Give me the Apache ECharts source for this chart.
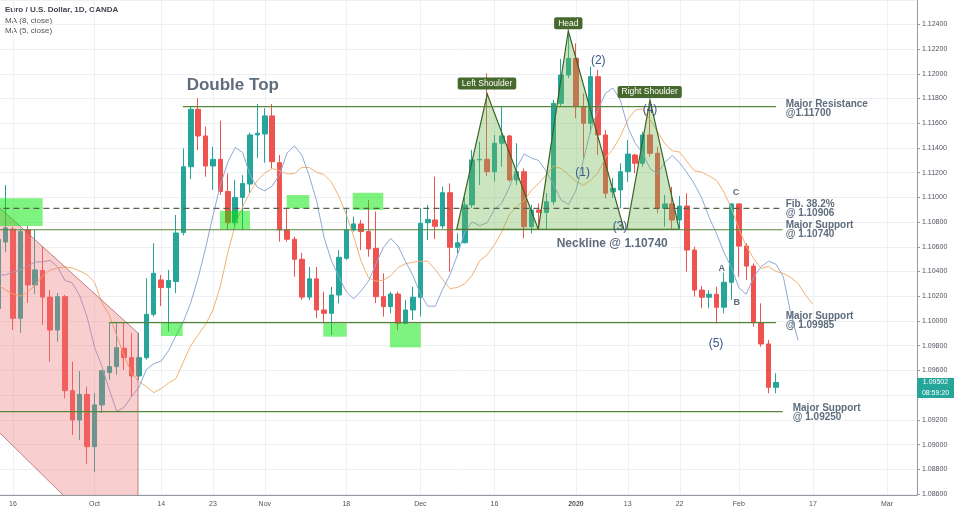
<!DOCTYPE html>
<html><head><meta charset="utf-8">
<script src="https://cdn.jsdelivr.net/npm/echarts@6/dist/echarts.min.js"></script>
<style>html,body{margin:0;padding:0;background:#fff}#c{width:954px;height:512px}</style>
</head><body><div id="c"></div>
<script>
// ---------- calendar (trading days, Dec 25 and Jan 1 closed) ----------
const sepDays=[12,13,16,17,18,19,20,23,24,25,26,27,30];
const octDays=[1,2,3,4,7,8,9,10,11,14,15,16,17,18,21,22,23,24,25,28,29,30,31];
const novDays=[1,4,5,6,7,8,11,12,13,14,15,18,19,20,21,22,25,26,27,28,29];
const decDays=[2,3,4,5,6,9,10,11,12,13,16,17,18,19,20,23,24,26,27,30,31];
const janDays=[2,3,6,7,8,9,10,13,14,15,16,17,20,21,22,23,24,27,28,29,30,31];
const febDays=[3,4,5,6,7,10,11,12,13,14,17,18,19,20,21,24,25,26,27,28];
const marDays=[2,3,4,5,6];
const p2=d=>(d<10?'0':'')+d;
const dates=[].concat(
  sepDays.map(d=>'2019-09-'+p2(d)), octDays.map(d=>'2019-10-'+p2(d)),
  novDays.map(d=>'2019-11-'+p2(d)), decDays.map(d=>'2019-12-'+p2(d)),
  janDays.map(d=>'2020-01-'+p2(d)), febDays.map(d=>'2020-02-'+p2(d)),
  marDays.map(d=>'2020-03-'+p2(d)));

// ---------- x tick labels ----------
const tickLabels=[['2019-09-16','16'],['2019-10-01','Oct'],['2019-10-14','14'],['2019-10-23','23'],
  ['2019-11-01','Nov'],['2019-11-18','18'],['2019-12-02','Dec'],['2019-12-16','16'],['2020-01-02','2020'],
  ['2020-01-13','13'],['2020-01-22','22'],['2020-02-03','Feb'],['2020-02-17','17'],['2020-03-02','Mar']];

// ---------- EUR/USD daily candles [open, close, low, high] ----------
const candles=[
[1.1010,1.1066,1.0930,1.1087],[1.10639,1.10753,1.10558,1.11100],[1.10742,1.10022,1.09927,1.10760],
[1.10022,1.10723,1.09903,1.10745],[1.10736,1.10291,1.10146,1.10770],[1.10291,1.10413,1.10219,1.10736],
[1.10408,1.10193,1.09968,1.10601],[1.10193,1.09927,1.09671,1.10251],[1.09927,1.10197,1.09833,1.10227],
[1.10197,1.09436,1.09374,1.10210],[1.09436,1.09199,1.09078,1.09671],[1.09199,1.09406,1.09037,1.09594],
[1.09406,1.08983,1.08845,1.09469],[1.08983,1.09321,1.08778,1.09418],[1.09321,1.09598,1.09256,1.09604],
[1.09582,1.09631,1.09523,1.09984],[1.09631,1.09784,1.09564,1.09984],[1.09779,1.09703,1.09604,1.09984],
[1.09703,1.09555,1.09387,1.09903],[1.09555,1.09703,1.09523,1.09903],[1.09703,1.10054,1.09687,1.10346],
[1.10054,1.10386,1.10035,1.10629],[1.10332,1.10270,1.10121,1.10372],[1.10270,1.10327,1.09914,1.10413],
[1.10319,1.10712,1.10225,1.10858],[1.10715,1.11248,1.10692,1.11397],[1.11248,1.11713,1.11148,1.11734],
[1.11713,1.11497,1.11383,1.11802],[1.11497,1.11254,1.11167,1.11572],[1.11254,1.11308,1.11060,1.11410],
[1.11308,1.11047,1.11020,1.11621],[1.11047,1.10795,1.10736,1.11195],[1.10795,1.11000,1.10736,1.11141],
[1.11000,1.11113,1.10736,1.11180],[1.11108,1.11505,1.11033,1.11524],[1.11505,1.11519,1.11316,1.11756],
[1.11513,1.11659,1.11281,1.11721],[1.11659,1.11289,1.11235,1.11756],[1.11281,1.10736,1.10642,1.11343],
[1.10736,1.10661,1.10642,1.10912],[1.10661,1.10499,1.10358,1.10682],[1.10499,1.10193,1.10170,1.10551],
[1.10193,1.10341,1.10170,1.10436],[1.10341,1.10089,1.10023,1.10436],[1.10089,1.10062,1.09981,1.10237],
[1.10062,1.10210,1.09887,1.10276],[1.10210,1.10515,1.10143,1.10574],[1.10507,1.10736,1.10493,1.10912],
[1.10736,1.10785,1.10723,1.10844],[1.10785,1.10723,1.10574,1.10817],[1.10723,1.10583,1.10520,1.10979],
[1.10588,1.10197,1.10143,1.10885],[1.10197,1.10116,1.10035,1.10385],[1.10116,1.10218,1.10062,1.10237],
[1.10218,1.09981,1.09927,1.10237],[1.09981,1.10089,1.09975,1.10170],[1.10089,1.10192,1.10008,1.10276],
[1.10192,1.10790,1.10035,1.10912],[1.10795,1.10822,1.10655,1.10939],[1.10817,1.10766,1.10663,1.11168],
[1.10769,1.11038,1.10746,1.11086],[1.11038,1.10596,1.10399,1.11113],[1.10596,1.10633,1.10547,1.10709],
[1.10633,1.10939,1.10628,1.11006],[1.10939,1.11303,1.10914,1.11384],[1.11303,1.11308,1.11100,1.11450],
[1.11308,1.11208,1.11174,1.12004],[1.11208,1.11438,1.11127,1.11505],[1.11438,1.11497,1.11248,1.11739],
[1.11497,1.11141,1.11127,1.11505],[1.11141,1.11208,1.11100,1.11438],[1.11208,1.10763,1.10669,1.11235],
[1.10763,1.10898,1.10709,1.10939],[1.10898,1.10879,1.10736,1.10952],[1.10879,1.10965,1.10736,1.11035],
[1.10965,1.11761,1.10939,1.11788],[1.11761,1.11990,1.11734,1.12120],[1.11990,1.12125,1.11964,1.12349],
[1.12125,1.11734,1.11640,1.12247],[1.11734,1.11600,1.11316,1.11842],[1.11600,1.11977,1.11519,1.12057],
[1.11977,1.11505,1.11343,1.12031],[1.11505,1.11034,1.10993,1.11546],[1.11045,1.11074,1.10995,1.11157],
[1.11060,1.11208,1.10912,1.11276],[1.11208,1.11351,1.11127,1.11464],[1.11343,1.11276,1.11195,1.11351],
[1.11276,1.11505,1.11248,1.11532],[1.11505,1.11357,1.11330,1.11761],[1.11357,1.10912,1.10871,1.11410],
[1.10912,1.10947,1.10763,1.11020],[1.10947,1.10817,1.10746,1.11086],[1.10817,1.10930,1.10749,1.11011],
[1.10930,1.10574,1.10399,1.11033],[1.10574,1.10250,1.10197,1.10601],[1.10250,1.10192,1.10103,1.10282],
[1.10192,1.10216,1.10103,1.10250],[1.10216,1.10111,1.09981,1.10276],[1.10111,1.10313,1.10062,1.10391],
[1.10313,1.10947,1.10170,1.10952],[1.10947,1.10606,1.10358,1.10952],[1.10606,1.10444,1.10332,1.10628],
[1.10444,1.09986,1.09954,1.10466],[1.09986,1.09814,1.09792,1.10143],[1.09814,1.09463,1.09415,1.09846],
[1.09463,1.09502,1.09415,1.09577]];

// MA values at the left edge (before enough closes exist)
const ma5Lead=[1.10372,1.10372,1.10396,1.10413,1.10445,1.10478,1.10478];
const ma8Lead=[1.10291,1.10250,1.10218,1.10202,1.10234,1.10291,1.10364,1.10413,1.10429,1.10437,1.10429,1.10405];

// ---------- annotations (bar index, price) ----------
const levels=[[24.95,105.0,1.11734,0],[-2,106.0,1.10911,1],[-2,105.9,1.10738,0],[14.96,105.0,1.09986,0],[-2,105.9,1.09266,0]];
const zones=[[-2,6.0,1.10992,1.10768],[21.98,24.91,1.09986,1.09878],[29.95,33.99,1.10892,1.10741],[38.95,42.0,1.11019,1.10911],
  [43.89,47.05,1.09981,1.09873],[47.86,51.99,1.11037,1.10898],[52.9,57.04,1.09981,1.09786]];
const channel=[[-2,1.11036],[18.88,1.09902],[18.88,1.0850],[10,1.08518],[-2,1.09225]];
const triangles=[[[61.9,1.10741],[66.03,1.11836],[72.92,1.10741]],[[72.92,1.10741],[76.97,1.12348],[84.49,1.10741]],[[84.85,1.10741],[88.0,1.11788],[91.95,1.10741]]];
const patternLabels=[['Left Shoulder',65.99,1.11922],['Head',76.97,1.12409],['Right Shoulder',87.96,1.11853]];
const waveLabels=[['(1)',78.91,1.11200],['(2)',81.02,1.12104],['(3)',83.95,1.10763],['(4)',88.0,1.11707],['(5)',96.91,1.09820]];
const letterLabels=[['A',97.68,1.10426],['B',99.7,1.10148],['C',99.61,1.11038]];
const levelTexts=[['Major Resistance\n@1.11700',106.32,1.11719],['Fib. 38.2%\n@ 1.10906',106.32,1.10912],['Major Support\n@ 1.10740',106.32,1.10735],
  ['Major Support\n@ 1.09985',106.32,1.09998],['Major Support\n@ 1.09250',107.27,1.09257]];
const bigTexts=[['Double Top',25.45,1.11909,17],['Neckline @ 1.10740',75.4,1.10628,12]];
const lastPrice=1.09502, countdown='08:59:20';
const xMin=0.245, xMax=124.05; // visible bar-index range

// ---------- build ----------
const labelMap={}; tickLabels.forEach(t=>labelMap[t[0]]=t[1]);
const tickIdx=tickLabels.map(t=>dates.indexOf(t[0]));
const closes=candles.map(c=>c[1]);
function displacedSMA(len,shift,lead){
  const out=[];
  lead.forEach((v,i)=>out.push([i,v]));
  for(let k=lead.length;k<dates.length;k++){
    const end=k-shift,start=end-len+1;
    if(start<0||end>=closes.length) continue;
    let s=0; for(let j=start;j<=end;j++) s+=closes[j];
    out.push([k,+(s/len).toFixed(5)]);
  }
  return out;
}
const ma5=displacedSMA(5,3,ma5Lead), ma8=displacedSMA(8,5,ma8Lead);

const FF='"Liberation Sans", Arial, sans-serif';
const shapes=[];
shapes.push({t:'poly',pts:channel,fill:'rgba(238,118,118,0.36)',stroke:'rgba(175,105,105,0.8)',w:1});
zones.forEach(z=>shapes.push({t:'rect',z}));
triangles.forEach(tr=>shapes.push({t:'poly',pts:tr,fill:'rgba(112,184,80,0.36)',stroke:'#3b6322',w:1.2}));
levels.forEach(l=>shapes.push({t:'line',l}));
bigTexts.forEach(b=>shapes.push({t:'text',text:b[0],k:b[1],p:b[2],align:'left',style:{fill:'#5e6d7e',fontSize:b[3],fontWeight:'bold',fontFamily:FF}}));
levelTexts.forEach(b=>shapes.push({t:'text',text:b[0],k:b[1],p:b[2],align:'left',style:{fill:'#5e6d7e',fontSize:10,fontWeight:'bold',fontFamily:FF,lineHeight:9}}));
waveLabels.forEach(b=>shapes.push({t:'text',text:b[0],k:b[1],p:b[2],align:'center',style:{fill:'#3a5888',fontSize:12,fontFamily:FF}}));
letterLabels.forEach(b=>shapes.push({t:'text',text:b[0],k:b[1],p:b[2],align:'center',style:{fill:'#5e6d7e',fontSize:9,fontWeight:'bold',fontFamily:FF}}));
patternLabels.forEach(b=>shapes.push({t:'text',text:b[0],k:b[1],p:b[2],align:'center',style:{fill:'#ffffff',fontSize:8.5,fontFamily:FF,backgroundColor:'#46692d',padding:[2,4,1,4],borderRadius:2}}));

function renderAnno(params,api){
  const s=shapes[params.dataIndex];
  const c=(k,p)=>api.coord([k,p]);
  if(s.t==='poly') return {type:'polygon',shape:{points:s.pts.map(q=>c(q[0],q[1]))},style:{fill:s.fill,stroke:s.stroke,lineWidth:s.w}};
  if(s.t==='rect'){const a=c(s.z[0],s.z[2]),b=c(s.z[1],s.z[3]);
    return {type:'rect',shape:{x:a[0],y:a[1],width:b[0]-a[0],height:b[1]-a[1]},style:{fill:'rgba(0,232,0,0.5)'}};}
  if(s.t==='line'){const a=c(s.l[0],s.l[2]),b=c(s.l[1],s.l[2]);
    return {type:'line',shape:{x1:a[0],y1:a[1],x2:b[0],y2:b[1]},style:{stroke:s.l[3]?'#55634a':'#55863a',lineWidth:1.2,lineDash:s.l[3]?[6,4]:null}};}
  const a=c(s.k,s.p);
  return {type:'text',x:a[0],y:a[1],z2:10,style:Object.assign({text:s.text,align:s.align,verticalAlign:'middle',textAlign:s.align,textVerticalAlign:'middle'},s.style)};
}
function renderVGrid(params,api){
  const cs=params.coordSys; const x=Math.round(api.coord([api.value(0),1.1])[0])+0.5;
  return {type:'line',shape:{x1:x,y1:cs.y,x2:x,y2:cs.y+cs.height},style:{stroke:'#eef0f4',lineWidth:1}};
}
function renderTag(params,api){
  const y=api.coord([api.value(0),lastPrice])[1]; const cs=params.coordSys; const x0=cs.x+cs.width;
  const ts={fill:'#ffffff',fontSize:7,fontFamily:FF,align:'center',verticalAlign:'middle',textAlign:'center',textVerticalAlign:'middle'};
  return {type:'group',children:[
    {type:'rect',shape:{x:x0,y:y-4.5,width:40,height:20},style:{fill:'#26a69a'}},
    {type:'text',x:x0+18.5,y:y,style:Object.assign({text:lastPrice.toFixed(5)},ts)},
    {type:'text',x:x0+18.5,y:y+10.5,style:Object.assign({text:countdown},ts)}]};
}
const chart=echarts.init(document.getElementById('c'),null,{renderer:'canvas'});
chart.setOption({
  animation:false, backgroundColor:'#ffffff',
  grid:{left:0,right:37,top:0,bottom:17,containLabel:false},
  xAxis:[{type:'value',min:xMin,max:xMax,
     axisLine:{onZero:false,lineStyle:{color:'#9598a1'}},axisTick:{show:false,customValues:tickIdx},
     axisLabel:{customValues:tickIdx,formatter:v=>{const d=dates[Math.round(v)];return d==='2020-01-02'?'{b|2020}':(labelMap[d]||'');},
       color:'#50535e',fontSize:7,fontFamily:FF,margin:6,rich:{b:{fontWeight:'bold',fontSize:7,color:'#50535e',fontFamily:FF}}},
     splitLine:{show:false}}],
  yAxis:[{type:'value',position:'right',min:1.08592,max:1.12597,splitNumber:20,scale:true,
    axisLine:{show:true,lineStyle:{color:'#9598a1'}},axisTick:{show:true,length:3,lineStyle:{color:'#9598a1'}},
    axisLabel:{formatter:v=>v.toFixed(5),fontSize:7,color:'#50535e',fontFamily:FF,margin:5,showMinLabel:false,showMaxLabel:false},
    splitLine:{lineStyle:{color:'#eef0f4'}}}],
  graphic:[
    {type:'text',left:5,top:6,style:{text:'Euro / U.S. Dollar, 1D, OANDA',font:'bold 8px '+FF,fill:'#434651'}},
    {type:'text',left:5,top:17,style:{text:'MA (8, close)',font:'8px '+FF,fill:'#555'}},
    {type:'text',left:5,top:27,style:{text:'MA (5, close)',font:'8px '+FF,fill:'#555'}}
  ],
  series:[
    {type:'custom',z:1,silent:true,clip:true,data:tickIdx.map(i=>[i,1.1]),renderItem:renderVGrid},
    {type:'candlestick',name:'EURUSD',data:candles.map((c,i)=>[i].concat(c)),barWidth:5,silent:true,
     itemStyle:{color:'#26a69a',color0:'#ef5350',borderColor:'#26a69a',borderColor0:'#ef5350',borderWidth:1}},
    {type:'line',name:'MA (8, close)',data:ma8,symbol:'none',silent:true,lineStyle:{color:'#f5b070',width:1}},
    {type:'line',name:'MA (5, close)',data:ma5,symbol:'none',silent:true,lineStyle:{color:'#8fa8d6',width:1}},
    {type:'custom',clip:true,z:5,silent:true,data:shapes.map(()=>[1,1.1]),renderItem:renderAnno},
    {type:'custom',clip:false,z:10,silent:true,data:[[105,lastPrice]],renderItem:renderTag}
  ]
});
</script></body></html>
